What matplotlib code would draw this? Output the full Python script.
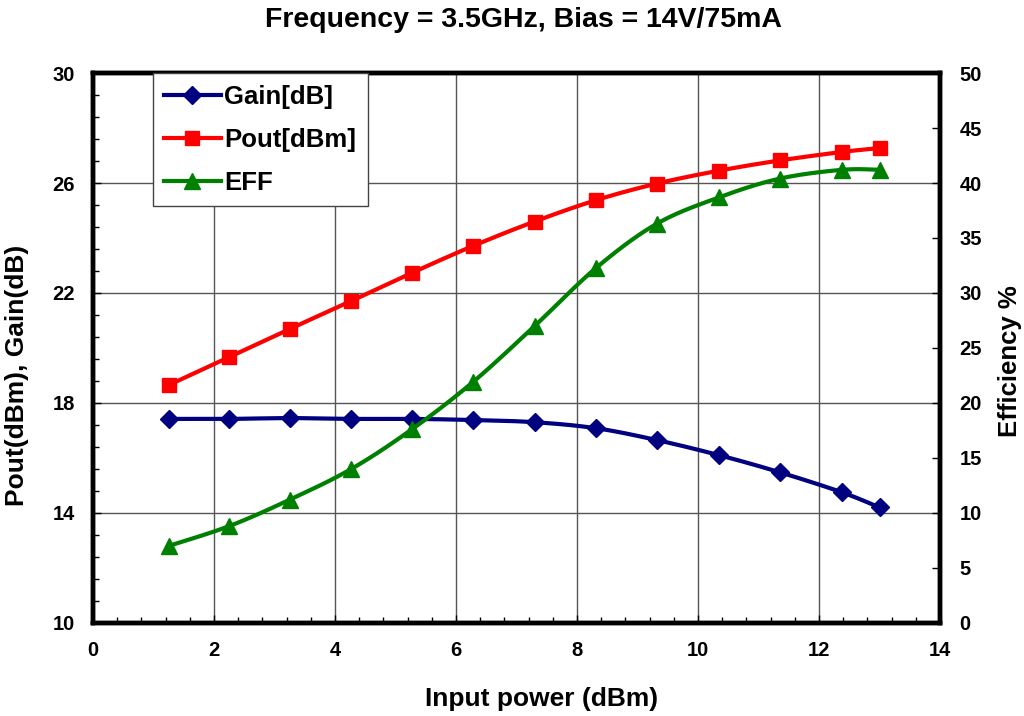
import numpy as np
import matplotlib
matplotlib.use("Agg")
import matplotlib.pyplot as plt
from matplotlib.ticker import MultipleLocator

plt.rcParams['font.family'] = ['Liberation Sans', 'DejaVu Sans']
plt.rcParams['font.weight'] = 'bold'

# data
pin = [1.25, 2.25, 3.25, 4.27, 5.27, 6.28, 7.3, 8.32, 9.32, 10.35, 11.35, 12.38, 13.0]
gain = [17.42, 17.42, 17.45, 17.42, 17.42, 17.38, 17.3, 17.08, 16.65, 16.1, 15.48, 14.75, 14.2]
pout = [18.65, 19.67, 20.69, 21.71, 22.73, 23.71, 24.6, 25.38, 25.98, 26.45, 26.82, 27.13, 27.27]
eff = [7.0, 8.8, 11.2, 14.0, 17.6, 21.9, 27.0, 32.3, 36.3, 38.7, 40.4, 41.2, 41.2]
left_ticks = [10, 14, 18, 22, 26, 30]


def smooth(x, y, n=20):
    # catmull-rom curve through the points (like excel "smoothed line")
    x = np.asarray(x, float)
    y = np.asarray(y, float)
    px = np.concatenate([[x[0]], x, [x[-1]]])
    py = np.concatenate([[y[0]], y, [y[-1]]])
    xs, ys = [], []
    t = np.linspace(0, 1, n)
    for i in range(1, len(px) - 2):
        for p, out in ((px, xs), (py, ys)):
            p0, p1, p2, p3 = p[i - 1], p[i], p[i + 1], p[i + 2]
            c = 0.5 * ((2 * p1) + (-p0 + p2) * t + (2 * p0 - 5 * p1 + 4 * p2 - p3) * t**2
                       + (-p0 + 3 * p1 - 3 * p2 + p3) * t**3)
            out.extend(c)
    return np.array(xs), np.array(ys)


fig = plt.figure(figsize=(10.24, 7.16), dpi=100)
ax = fig.add_axes([0.0908, 0.130, 0.8272, 0.768])
ax2 = ax.twinx()

navy = '#000080'
red = '#ff0000'
green = '#008000'
lw = 3.0

sx, sy = smooth(pin, gain)
ax.plot(sx, sy, color=navy, lw=lw, zorder=3)
ax.plot(pin, gain, ls='none', marker='D', ms=9, color=navy, zorder=4)
sx, sy = smooth(pin, pout)
ax.plot(sx, sy, color=red, lw=lw, zorder=3)
ax.plot(pin, pout, ls='none', marker='s', ms=10, color=red, zorder=4)
sx, sy = smooth(pin, eff)
ax2.plot(sx, sy, color=green, lw=lw, zorder=3)
ax2.plot(pin, eff, ls='none', marker='^', ms=11, color=green, zorder=4)

ax.set_xlim(0, 14)
ax.set_ylim(10, 30)
ax2.set_ylim(0, 50)
ax.xaxis.set_major_locator(MultipleLocator(2))
ax.xaxis.set_minor_locator(MultipleLocator(0.4))
ax.set_yticks(left_ticks)
ax.set_yticks(np.arange(10, 30.01, 0.8), minor=True)
ax2.yaxis.set_major_locator(MultipleLocator(5))

ax.grid(True, which='major', color='#555555', lw=1.0)
for a in (ax, ax2):
    for s in a.spines.values():
        s.set_linewidth(3.2)
ax.tick_params(which='both', direction='in', labelsize=14.5, width=1)
ax.tick_params(which='major', length=6, pad=13)
ax.tick_params(which='minor', length=4)
ax2.tick_params(direction='in', labelsize=14.5, length=6, width=1, pad=14)
for lab in ax.get_xticklabels() + ax.get_yticklabels() + ax2.get_yticklabels():
    lab.set_fontweight('bold')

ax.set_xlabel('Input power (dBm)', fontsize=19, fontweight='bold')
ax.xaxis.set_label_coords(0.530, -0.116)
ax.set_ylabel('Pout(dBm), Gain(dB)', fontsize=19, fontweight='bold')
ax.yaxis.set_label_coords(-0.0756, 0.451)
ax2.set_ylabel('Efficiency %', fontsize=18.5, fontweight='bold')
ax2.yaxis.set_label_coords(1.0685, 0.476)
fig.suptitle('Frequency = 3.5GHz, Bias = 14V/75mA', fontsize=20.5, fontweight='bold',
             x=0.511, y=0.99)

h1 = ax.plot([], [], color=navy, lw=lw, marker='D', ms=9)[0]
h2 = ax.plot([], [], color=red, lw=lw, marker='s', ms=10)[0]
h3 = ax.plot([], [], color=green, lw=lw, marker='^', ms=11)[0]
leg = ax2.legend([h1, h2, h3], ['Gain[dB]', 'Pout[dBm]', 'EFF'], loc='upper left',
                 bbox_to_anchor=(0.0703, 1.0), borderaxespad=0, fontsize=18.5, frameon=True,
                 fancybox=False, edgecolor='#444444', framealpha=1, handlelength=2.2,
                 labelspacing=0.74, borderpad=0.45, handletextpad=0.15)
leg.get_frame().set_linewidth(1.0)
leg.set_zorder(10)

fig.savefig('out.png', dpi=100)
